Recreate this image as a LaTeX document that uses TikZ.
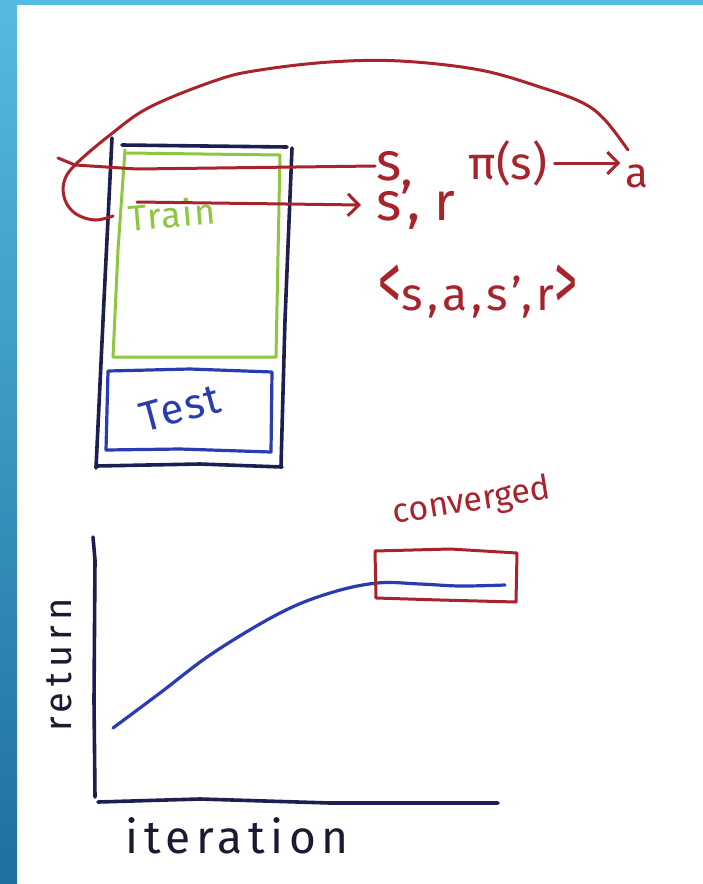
\documentclass[tikz,border=0pt]{standalone}
\usepackage{fontspec}
\usepackage{graphicx}
\setmainfont{Fira Sans}
\usetikzlibrary{arrows.meta}
\definecolor{hred}{HTML}{A8232B}
\definecolor{hnavy}{HTML}{1C1F4F}
\definecolor{hgreen}{HTML}{8DC63F}
\definecolor{hblue}{HTML}{2A3DB0}
\definecolor{hink}{HTML}{1A1A33}
\definecolor{bartop}{HTML}{55BBDF}
\definecolor{barbot}{HTML}{1F6FA1}
\tikzset{
  redline/.style={draw=hred, line width=3pt, line cap=round, line join=round},
  navyline/.style={draw=hnavy, line width=3.6pt, line cap=round, line join=round},
  greenline/.style={draw=hgreen, line width=3pt, line cap=round, line join=round},
  blueline/.style={draw=hblue, line width=3.2pt, line cap=round, line join=round},
  barb/.style={-{Straight Barb[length=11pt,width=22pt,line width=3pt]}},
  redtxt/.style={text=hred, inner sep=1pt},
}
\begin{document}
\begin{tikzpicture}[x=1pt,y=-1pt]
\useasboundingbox (0,0) rectangle (703,884);
\fill[white] (0,0) rectangle (703,884);
\fill[bartop] (0,0) rectangle (703,5);
\shade[top color=bartop, bottom color=barbot] (0,0) rectangle (17,884);

% ---------- data box ----------
\draw[navyline] (122,145) -- (287,147);
\draw[navyline] (112,138) -- (104,300) -- (96,468);
\draw[navyline] (292,148) -- (285,320) -- (281,466);
\draw[navyline] (96,466) -- (200,464) -- (282,467);

\draw[greenline] (127,153) -- (280,155) -- (276,357) -- (113,357) -- (118,250) -- (125,150);
\draw[blueline] (108,371) -- (190,369) -- (272,372) -- (271,452) -- (180,449) -- (106,450) -- cycle;

\node[text=hgreen, rotate=5, inner sep=1pt, font={\fontsize{36}{40}\selectfont\addfontfeature{LetterSpace=4}}] (train) at (172,214) {Train};
\node[text=hblue, rotate=15, inner sep=1pt, font={\fontsize{42}{46}\selectfont\addfontfeature{LetterSpace=4}}] (test) at (180,408) {Test};

% ---------- labels ----------
\node[redtxt, font={\fontsize{54}{58}\selectfont}] (s) at (389,166) {s};
\node[redtxt, anchor=west, font={\fontsize{54}{58}\selectfont}] (sp) at (375,205) {s’,\hspace{14pt}r};
\node[redtxt, font={\fontsize{46}{50}\selectfont}] (pis) at (508,163) {π(s)};
\node[redtxt, font={\fontsize{42}{46}\selectfont}] (a) at (637,176) {a};
\node[redtxt, font={\fontsize{46}{50}\selectfont\addfontfeature{LetterSpace=9}}] (tuple) at (478,292)
  {\scalebox{1}[1.8]{<}s,a,s’,r\scalebox{1}[1.8]{>}};

% ---------- red loop ----------
\coordinate (sl) at (58,158);
\coordinate (lstart) at (137,202);
\coordinate (arcend) at (628,150);
\draw[redline] (s.west) -- (137,169) -- (75,165) -- (sl);
\draw[redline, barb] (lstart) -- ([xshift=-14pt]sp.west);
\draw[redline, barb] ([xshift=6pt]pis.east) -- ([xshift=-4pt]a.west |- pis.east);
\draw[redline] plot[smooth, tension=0.6] coordinates {
  (arcend) (605,120) (583,103) (543,88) (480,70) (400,61) (330,62) (260,70)
  (217,80) (150,107) (110,135) (75,165) (64,182) (65,200) (76,214) (95,220) (113,216)};

% ---------- plot ----------
\draw[navyline] (93,537) -- (95,560) -- (94,700) -- (95,797);
\draw[navyline] (98,802) -- (200,799) -- (330,803) -- (498,803);
\draw[blueline] plot[smooth, tension=0.6] coordinates {
  (113,728) (160,693) (213,653) (280,613) (330,593) (377,583) (420,584) (460,586) (505,585)};
\draw[redline] (375,551) -- (450,549) -- (517,553) -- (516,602) -- (440,600) -- (376,598) -- cycle;

\node[text=hred, rotate=9, inner sep=1pt, font={\fontsize{34}{38}\selectfont}] (conv) at (472,502) {converged};
\node[text=hink, inner sep=1pt, font={\fontsize{46}{50}\selectfont\addfontfeature{LetterSpace=12}}] (iter) at (237,836) {iteration};
\node[text=hink, rotate=90, inner sep=1pt, font={\fontsize{38}{42}\selectfont\addfontfeature{LetterSpace=14}}] (ret) at (59,665) {return};
\end{tikzpicture}
\end{document}
